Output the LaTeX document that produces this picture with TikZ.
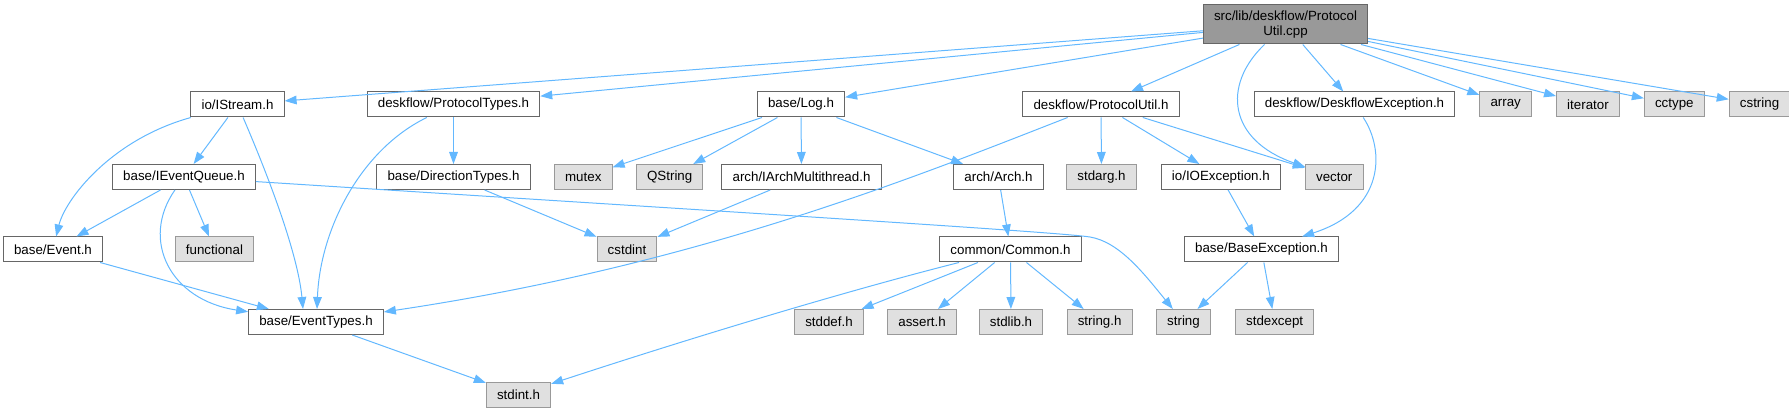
\documentclass[tikz,border=0pt]{standalone}
\usepackage{fontspec}
\setmainfont{Liberation Sans}
\usepackage{tikz}
\usetikzlibrary{arrows.meta,positioning,calc}
\definecolor{edgeblue}{RGB}{99,184,255}
\definecolor{boxline}{RGB}{102,102,102}
\definecolor{sysline}{RGB}{153,153,153}
\definecolor{sysfill}{RGB}{224,224,224}
\definecolor{mainfill}{RGB}{153,153,153}
\tikzset{
  basebox/.style={rectangle,draw=boxline,line width=0.75pt,inner xsep=8pt,inner ysep=0pt,minimum height=18.75pt,align=center,font=\fontsize{10}{11.5}\selectfont},
  incbox/.style={basebox,fill=white},
  sysbox/.style={basebox,fill=sysfill,draw=sysline},
  mainbox/.style={basebox,fill=mainfill,minimum height=29.25pt},
  dep/.style={-{Triangle[length=9pt,width=6.5pt]},line width=0.75pt,color=edgeblue}
}

\begin{document}
\begin{tikzpicture}[x=0.75pt,y=-0.75pt]
  \useasboundingbox (0,0) rectangle (1789,413);

  \node[mainbox] (main) at (1285.5,24.5) {src/lib/deskflow/Protocol\\Util.cpp};

  %% first level
  \node[incbox] (istream) at (237.5,104.5) {io/IStream.h};
  \node[incbox] (ptypes) at (453.5,104.5) {deskflow/ProtocolTypes.h};
  \node[incbox] (log) at (801,104.5) {base/Log.h};
  \node[incbox] (putil) at (1101,104.5) {deskflow/ProtocolUtil.h};
  \node[incbox] (dfexc) at (1354.5,104.5) {deskflow/DeskflowException.h};
  \node[sysbox,right=18pt of dfexc] (arr) {array};
  \node[sysbox,right=18pt of arr] (iter) {iterator};
  \node[sysbox,right=18pt of iter] (cctype) {cctype};
  \node[sysbox,right=18pt of cctype] (cstr) {cstring};

  %% second level
  \node[incbox] (ieq) at (184,177) {base/IEventQueue.h};
  \node[incbox] (dirt) at (453.5,177) {base/DirectionTypes.h};
  \node[sysbox,right=17.5pt of dirt] (mutex) {mutex};
  \node[sysbox,right=17.5pt of mutex] (qstr) {QString};
  \node[incbox] (iamt) at (801.5,177) {arch/IArchMultithread.h};
  \node[incbox] (arch) at (998.5,177) {arch/Arch.h};
  \node[sysbox] (stdarg) at (1101.5,177) {stdarg.h};
  \node[incbox,right=18pt of stdarg] (ioexc) {io/IOException.h};
  \node[sysbox,right=18pt of ioexc] (vec) {vector};

  %% third level
  \node[incbox] (event) at (53,249.5) {base/Event.h};
  \node[sysbox] (func) at (214.5,249.5) {functional};
  \node[sysbox] (cstdint) at (627,249.5) {cstdint};
  \node[incbox] (common) at (1010.5,249.5) {common/Common.h};
  \node[incbox] (baseexc) at (1261.5,249.5) {base/BaseException.h};

  %% fourth level
  \node[incbox] (evtypes) at (316,322) {base/EventTypes.h};
  \node[sysbox] (stddef) at (829,322) {stddef.h};
  \node[sysbox,right=17.5pt of stddef] (assert) {assert.h};
  \node[sysbox] (stdlib) at (1011,322) {stdlib.h};
  \node[sysbox,right=17.5pt of stdlib] (strh) {string.h};
  \node[sysbox,right=17.5pt of strh] (strg) {string};
  \node[sysbox,right=18pt of strg] (stdexc) {stdexcept};
  \node[sysbox] (stdint) at (518.5,394.5) {stdint.h};

  %% Dependencies
  \draw[dep] (main) -- (istream);
  \draw[dep] (main) -- (ptypes);
  \draw[dep] (main) -- (log);
  \draw[dep] (main) -- (putil);
  \draw[dep] (main) .. controls (1222,85) and (1228,140) .. (vec);
  \draw[dep] (main) -- (dfexc);
  \draw[dep] (main) -- (arr);
  \draw[dep] (main) -- (iter);
  \draw[dep] (main) -- (cctype);
  \draw[dep] (main) -- (cstr);

  \draw[dep] (istream) .. controls (110,140) and (65,200) .. (event);
  \draw[dep] (istream) -- (ieq);
  \draw[dep] (istream) .. controls (270,180) and (298,255) .. ($(evtypes.north)+(-13,0)$);
  \draw[dep] (ptypes) .. controls (360,150) and (320,230) .. ($(evtypes.north)+(1,0)$);
  \draw[dep] (ptypes) -- (dirt);

  \draw[dep] (log) -- (mutex);
  \draw[dep] (log) -- (qstr);
  \draw[dep] (log) -- (iamt);
  \draw[dep] (log) -- (arch);

  \draw[dep] (putil) .. controls (920,175) and (700,265) .. (evtypes);
  \draw[dep] (putil) -- (stdarg);
  \draw[dep] (putil) -- (ioexc);
  \draw[dep] (putil) -- (vec);
  \draw[dep] (dfexc) .. controls (1385,150) and (1385,210) .. (baseexc);

  \draw[dep] (ieq) -- (event);
  \draw[dep] (ieq) -- (func);
  \draw[dep] (ieq) .. controls (140,240) and (170,300) .. (evtypes);
  \coordinate (knee) at (1090,237);
  \draw[dep] (ieq) .. controls (700,210) and (1060,232) .. (knee)
    .. controls (1120,242) and (1145,275) .. (strg);
  \draw[dep] (dirt) -- (cstdint);
  \draw[dep] (iamt) -- (cstdint);
  \draw[dep] (arch) -- (common);
  \draw[dep] (ioexc) -- (baseexc);

  \draw[dep] (event) -- (evtypes);
  \draw[dep] (common) .. controls (850,290) and (700,335) .. (stdint);
  \draw[dep] (common) -- (stddef);
  \draw[dep] (common) -- (assert);
  \draw[dep] (common) -- (stdlib);
  \draw[dep] (common) -- (strh);
  \draw[dep] (baseexc) -- (strg);
  \draw[dep] (baseexc) -- (stdexc);
  \draw[dep] (evtypes) -- (stdint);
\end{tikzpicture}
\end{document}
